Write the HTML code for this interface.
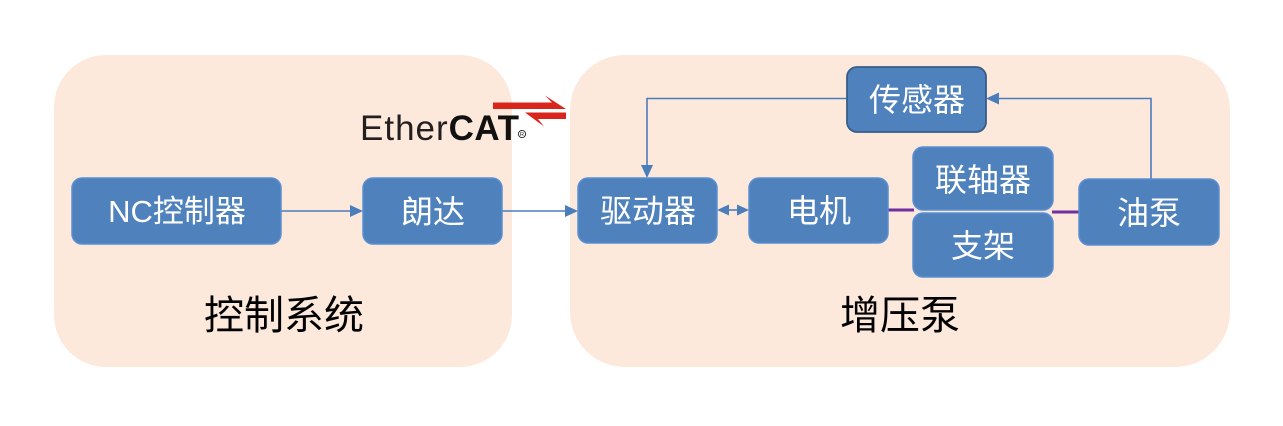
<!DOCTYPE html>
<html>
<head>
<meta charset="utf-8">
<style>
html,body{margin:0;padding:0;background:#ffffff;}
svg{display:block;}
text{font-family:"Liberation Sans","Noto Sans CJK SC","WenQuanYi Zen Hei",sans-serif;}
</style>
</head>
<body>
<svg width="1283" height="426" viewBox="0 0 1283 426" xmlns="http://www.w3.org/2000/svg">
  <!-- panels -->
  <rect x="54" y="55" width="458" height="312" rx="52" ry="52" fill="#fde9db"/>
  <rect x="570" y="55" width="660" height="312" rx="55" ry="55" fill="#fde9db"/>

  <!-- connectors -->
  <g stroke="#4a7ebb" stroke-width="1.6" fill="none">
    <line x1="281" y1="211" x2="352" y2="211"/>
    <line x1="502" y1="211" x2="567" y2="211"/>
    <polyline points="847,98.5 647,98.5 647,167"/>
    <polyline points="1151,179 1151,98.5 997,98.5"/>
    <line x1="727" y1="210" x2="739" y2="210"/>
  </g>
  <g fill="#4a7ebb">
    <polygon points="363,211 350,205 350,217"/>
    <polygon points="578,211 565,205 565,217"/>
    <polygon points="647,178 641,165 653,165"/>
    <polygon points="986,98.5 999,92.5 999,104.5"/>
    <polygon points="717,210 729,204.5 729,215.5"/>
    <polygon points="749,210 737,204.5 737,215.5"/>
  </g>
  <!-- purple shaft lines -->
  <g stroke="#7030a0" stroke-width="3">
    <line x1="888" y1="210" x2="914" y2="210"/>
    <line x1="1052" y1="212" x2="1080" y2="212"/>
  </g>

  <!-- boxes -->
  <g fill="#4f81bd" stroke="#5a8fd2" stroke-width="1.5">
    <rect x="72" y="178" width="209" height="66" rx="10"/>
    <rect x="363" y="178" width="139" height="66" rx="10"/>
    <rect x="578" y="178" width="139" height="65" rx="10"/>
    <rect x="749" y="178" width="139" height="65" rx="10"/>
    <rect x="913" y="147" width="140" height="63" rx="10"/>
    <rect x="913" y="213" width="140" height="64" rx="10"/>
    <rect x="1079" y="179" width="140" height="66" rx="10"/>
  </g>
  <rect x="847" y="67" width="139" height="65" rx="10" fill="#4f81bd" stroke="#385d8a" stroke-width="1.8"/>

  <!-- box labels -->
  <g fill="#ffffff" font-size="32" text-anchor="middle">
    <text x="177" y="222" font-size="31">NC控制器</text>
    <text x="433" y="223">朗达</text>
    <text x="648" y="222">驱动器</text>
    <text x="819" y="222">电机</text>
    <text x="983" y="191">联轴器</text>
    <text x="983" y="257">支架</text>
    <text x="1149" y="224">油泵</text>
    <text x="917" y="111">传感器</text>
  </g>

  <!-- panel titles -->
  <g fill="#000000" font-size="40" text-anchor="middle">
    <text x="284" y="329">控制系统</text>
    <text x="900" y="329">增压泵</text>
  </g>

  <!-- EtherCAT logo -->
  <text x="360" y="140" font-size="35" fill="#231f20" letter-spacing="1"><tspan>Ether</tspan><tspan font-weight="bold" fill="#111111" letter-spacing="0.5">CAT</tspan></text>
  <circle cx="522" cy="134" r="3.6" fill="none" stroke="#231f20" stroke-width="0.9"/>
  <text x="522" y="136.2" font-size="5.5" fill="#231f20" text-anchor="middle">R</text>
  <g fill="#d9261c">
    <polygon points="493,102.5 552,102.5 545,95.5 566,109 493,109"/>
    <polygon points="566,112.5 525,112.5 544,126.5 538,119 566,119"/>
  </g>
</svg>
</body>
</html>
